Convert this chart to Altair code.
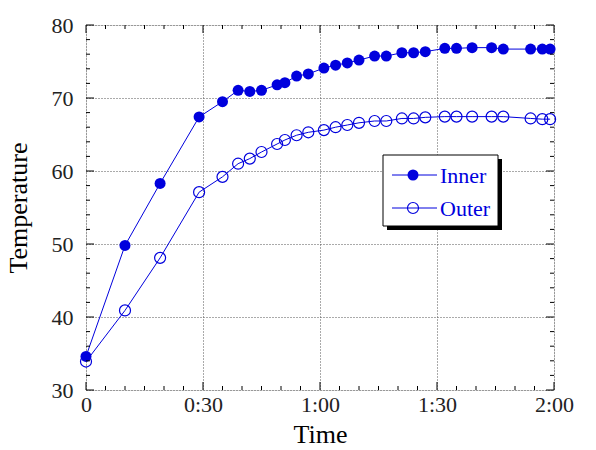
import altair as alt
import pandas as pd

# ---- data ----
times = [0, 10, 19, 29, 35, 39, 42, 45, 49, 51, 54, 57, 61, 64, 67, 70, 74, 77,
         81, 84, 87, 92, 95, 99, 104, 107, 114, 117, 119]  # minutes
inner = [34.6, 49.8, 58.3, 67.4, 69.5, 71.05, 70.9, 71.05, 71.8, 72.1, 73.0, 73.3,
         74.1, 74.5, 74.8, 75.2, 75.75, 75.75, 76.2, 76.2, 76.35, 76.8, 76.8, 76.9,
         76.9, 76.7, 76.7, 76.7, 76.7]
outer = [33.9, 40.9, 48.1, 57.1, 59.2, 61.0, 61.7, 62.6, 63.7, 64.25, 64.9, 65.3,
         65.6, 66.0, 66.3, 66.6, 66.85, 66.85, 67.2, 67.2, 67.35, 67.45, 67.45, 67.45,
         67.45, 67.45, 67.2, 67.1, 67.1]
series_names = ["Inner", "Outer"]

x_major = [0, 30, 60, 90, 120]
x_minor = [t for t in range(0, 121, 5) if t % 30 != 0]
y_major = [30, 40, 50, 60, 70, 80]
y_minor = [v for v in range(30, 81, 2) if v % 10 != 0]

W, H = 468, 365
BLUE = "#0000dd"
FONT = "Liberation Serif"

df_in = pd.DataFrame({"t": times, "temp": inner})
df_out = pd.DataFrame({"t": times, "temp": outer})

xscale = alt.Scale(domain=[0, 120], nice=False, zero=False)
yscale = alt.Scale(domain=[30, 80], nice=False, zero=False)

x_axis = alt.Axis(
    values=x_major,
    labelExpr="datum.value == 0 ? '0' : floor(datum.value/60) + ':' + (datum.value % 60 == 0 ? '00' : '30')",
    grid=True, gridColor="#555555", gridDash=[1, 2], gridWidth=1,
    ticks=False, domain=False, labelFlush=False, labelOverlap=False,
    labelFont=FONT, labelFontSize=22, labelColor="#222222", labelPadding=4,
    title="Time", titleFont=FONT, titleFontSize=26, titleFontWeight="normal",
    titleColor="black", titlePadding=6,
)
y_axis = alt.Axis(
    values=y_major,
    grid=True, gridColor="#555555", gridDash=[1, 2], gridWidth=1,
    ticks=False, domain=False, labelFlush=False, labelOverlap=False,
    labelFont=FONT, labelFontSize=22, labelColor="#222222", labelPadding=13,
    title="Temperature", titleFont=FONT, titleFontSize=26, titleFontWeight="normal",
    titleColor="black", titlePadding=20,
)

X = alt.X("t:Q", scale=xscale, axis=x_axis)
Y = alt.Y("temp:Q", scale=yscale, axis=y_axis)

line_in = alt.Chart(df_in).mark_line(color=BLUE, strokeWidth=1).encode(x=X, y=Y)
line_out = alt.Chart(df_out).mark_line(color=BLUE, strokeWidth=1).encode(x=X, y=Y)
pts_in = alt.Chart(df_in).mark_point(shape="circle", filled=True, size=121, color=BLUE,
                                     opacity=1).encode(x=X, y=Y)
pts_out = alt.Chart(df_out).mark_point(shape="circle", filled=False, size=121, color=BLUE,
                                       strokeWidth=1.2, opacity=1).encode(x=X, y=Y)

# inward ticks on all four sides
def xticks(vals, length):
    d = pd.DataFrame({"t": vals})
    xs = alt.X("t:Q", scale=xscale, axis=x_axis)
    bot = alt.Chart(d).mark_rule(color="black", strokeWidth=1).encode(
        x=xs, y=alt.value(H), y2=alt.value(H - length))
    top = alt.Chart(d).mark_rule(color="black", strokeWidth=1).encode(
        x=xs, y=alt.value(0), y2=alt.value(length))
    return [bot, top]

def yticks(vals, length):
    d = pd.DataFrame({"temp": vals})
    ys = alt.Y("temp:Q", scale=yscale, axis=y_axis)
    left = alt.Chart(d).mark_rule(color="black", strokeWidth=1).encode(
        y=ys, x=alt.value(0), x2=alt.value(length))
    right = alt.Chart(d).mark_rule(color="black", strokeWidth=1).encode(
        y=ys, x=alt.value(W), x2=alt.value(W - length))
    return [left, right]

tick_layers = xticks(x_minor, 4) + xticks(x_major, 8) + yticks(y_minor, 4) + yticks(y_major, 8)

# legend box
dummy = pd.DataFrame({"a": [0]})
lx0, lx1, ly0, ly1 = 297, 412, 130, 201
shadow = alt.Chart(dummy).mark_rect(color="black").encode(
    x=alt.value(lx0 + 4), x2=alt.value(lx1 + 4), y=alt.value(ly0 + 4), y2=alt.value(ly1 + 4))
box = alt.Chart(dummy).mark_rect(fill="white", stroke="black", strokeWidth=1).encode(
    x=alt.value(lx0), x2=alt.value(lx1), y=alt.value(ly0), y2=alt.value(ly1))
legend_layers = [shadow, box]
for name, yy, filled in [(series_names[0], 150, True), (series_names[1], 183, False)]:
    legend_layers.append(alt.Chart(dummy).mark_rule(color=BLUE, strokeWidth=1).encode(
        x=alt.value(306), x2=alt.value(351), y=alt.value(yy)))
    legend_layers.append(alt.Chart(dummy).mark_point(
        shape="circle", filled=filled, size=121, color=BLUE, strokeWidth=1.2, opacity=1
    ).encode(x=alt.value(327), y=alt.value(yy)))
    legend_layers.append(alt.Chart(dummy).mark_text(
        align="left", baseline="middle", font=FONT, fontSize=22, color=BLUE
    ).encode(x=alt.value(354), y=alt.value(yy + 1), text=alt.value(name)))

chart = alt.layer(
    line_in, line_out, pts_in, pts_out, *tick_layers, *legend_layers
).properties(
    width=W, height=H,
    padding={"left": 86, "top": 25, "right": 42, "bottom": 60},
    autosize=alt.AutoSizeParams(type="none"),
).configure_view(
    stroke="black", strokeWidth=1
).configure(background="white")

chart.save("out.html", embed_options={"renderer": "svg", "actions": False})
